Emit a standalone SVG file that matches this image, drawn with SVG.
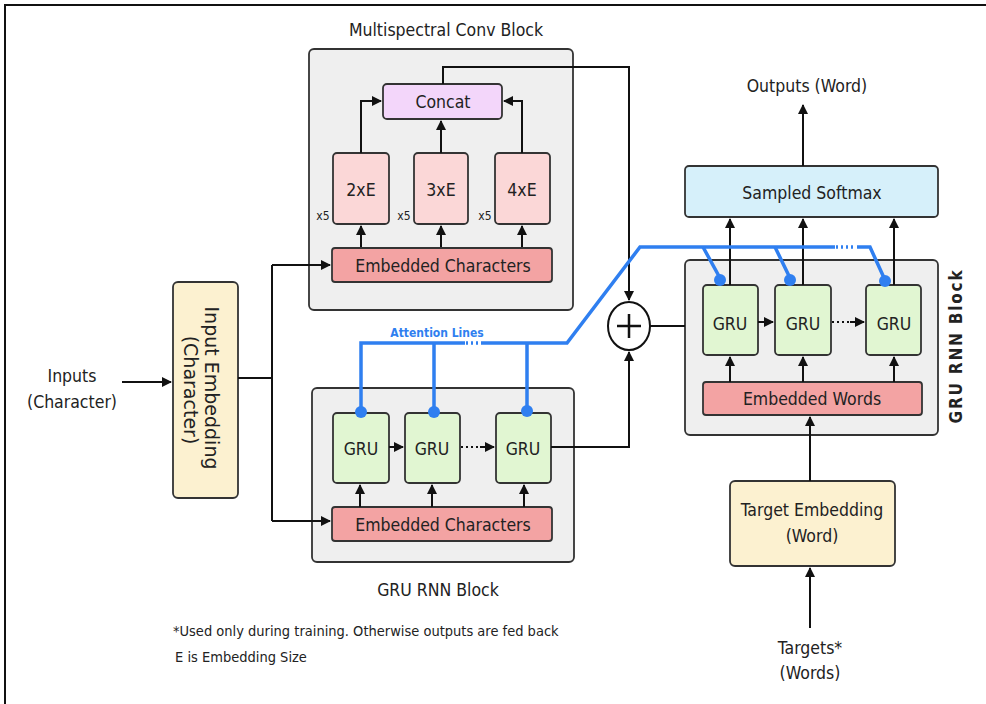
<svg xmlns="http://www.w3.org/2000/svg" width="986" height="704" viewBox="0 0 986 704">
<defs>
<marker id="ah" viewBox="0 0 10 10" refX="9" refY="5" markerWidth="5" markerHeight="5" orient="auto-start-reverse"><path d="M0,0 L10,5 L0,10 z" fill="#111"/></marker>
<style>
text{font-family:"DejaVu Sans Condensed","DejaVu Sans",sans-serif;fill:#222}
.blk{fill:#efefef;stroke:#333;stroke-width:1.8}
.pink{fill:#fbd7d7;stroke:#333;stroke-width:1.8}
.emb{fill:#f3a3a3;stroke:#333;stroke-width:1.8}
.gru{fill:#e1f6d2;stroke:#333;stroke-width:1.8}
.cc{fill:#f3d6fa;stroke:#333;stroke-width:1.8}
.sm{fill:#d6f0fa;stroke:#333;stroke-width:1.8}
.yel{fill:#fcf1d0;stroke:#333;stroke-width:1.8}
.ln{fill:none;stroke:#111;stroke-width:2}
.ar{fill:none;stroke:#111;stroke-width:2;marker-end:url(#ah)}
.dot{fill:none;stroke:#111;stroke-width:2;stroke-dasharray:2 3}
.bl{fill:none;stroke:#2f7ff0;stroke-width:3.5}
.bld{fill:none;stroke:#2f7ff0;stroke-width:3.5;stroke-dasharray:2 3}
.bdot{fill:#2f7ff0}
.t{font-size:17.5px;text-anchor:middle}
.r{font-family:"DejaVu Sans",sans-serif;font-size:19px;text-anchor:middle}
.s{font-size:12px;text-anchor:middle}
</style>
</defs>
<rect x="0" y="0" width="986" height="704" fill="#fff"/>
<path d="M5,704 V5 H986" fill="none" stroke="#111" stroke-width="2"/>

<g id="conv-block">
<rect class="blk" x="309" y="49" width="264" height="261" rx="5"/>
<text class="t" x="446" y="36">Multispectral Conv Block</text>
</g>
<g id="concat"><rect class="cc" x="383" y="84" width="119" height="35" rx="4"/><text class="t" x="443" y="108">Concat</text></g>
<g id="conv2"><rect class="pink" x="333" y="153" width="56" height="71" rx="4"/><text class="t" x="361" y="196">2xE</text><text class="s" x="323" y="220">x5</text></g>
<g id="conv3"><rect class="pink" x="414" y="153" width="54" height="71" rx="4"/><text class="t" x="441" y="196">3xE</text><text class="s" x="404" y="220">x5</text></g>
<g id="conv4"><rect class="pink" x="495" y="153" width="55" height="71" rx="4"/><text class="t" x="522" y="196">4xE</text><text class="s" x="485" y="220">x5</text></g>
<g id="emb-chars-top"><rect class="emb" x="332" y="248" width="220" height="34" rx="3"/><text class="t" x="443" y="272">Embedded Characters</text></g>

<g id="gru-block-left">
<rect class="blk" x="312" y="388" width="262" height="174" rx="5"/>
<text class="t" x="438" y="596">GRU RNN Block</text>
</g>
<g id="gru-l1"><rect class="gru" x="333" y="413" width="56" height="70" rx="4"/><text class="t" x="361" y="455">GRU</text></g>
<g id="gru-l2"><rect class="gru" x="405" y="413" width="55" height="70" rx="4"/><text class="t" x="432" y="455">GRU</text></g>
<g id="gru-l3"><rect class="gru" x="496" y="413" width="55" height="70" rx="4"/><text class="t" x="523" y="455">GRU</text></g>
<g id="emb-chars-bottom"><rect class="emb" x="332" y="507" width="220" height="34" rx="3"/><text class="t" x="443" y="531">Embedded Characters</text></g>

<g id="input-embedding"><rect class="yel" x="173" y="282" width="65" height="216" rx="5"/>
<text class="r" transform="translate(205,388) rotate(90)">Input Embedding</text>
<text class="r" transform="translate(184,390) rotate(90)">(Character)</text></g>
<g id="inputs"><text class="t" x="72" y="382">Inputs</text><text class="t" x="72" y="408">(Character)</text></g>

<g id="plus"><ellipse cx="629" cy="326" rx="21" ry="24" fill="#fff" stroke="#111" stroke-width="2"/><path d="M617,326 H641 M629,314 V338" stroke="#111" stroke-width="2.5"/></g>

<g id="gru-block-right">
<rect class="blk" x="685" y="260" width="253" height="175" rx="5"/>
<text class="t" font-weight="bold" transform="translate(962,346) rotate(-90)" style="font-size:17px;letter-spacing:1.8px">GRU RNN Block</text>
</g>
<g id="gru-r1"><rect class="gru" x="703" y="285" width="55" height="70" rx="4"/><text class="t" x="730" y="330">GRU</text></g>
<g id="gru-r2"><rect class="gru" x="775" y="285" width="56" height="70" rx="4"/><text class="t" x="803" y="330">GRU</text></g>
<g id="gru-r3"><rect class="gru" x="866" y="285" width="55" height="70" rx="4"/><text class="t" x="894" y="330">GRU</text></g>
<g id="emb-words"><rect class="emb" x="703" y="382" width="219" height="33" rx="3"/><text class="t" x="812" y="405">Embedded Words</text></g>
<g id="softmax"><rect class="sm" x="685" y="166" width="253" height="51" rx="4"/><text class="t" x="812" y="199">Sampled Softmax</text></g>
<g id="outputs"><text class="t" x="807" y="92">Outputs (Word)</text></g>
<g id="target-embedding"><rect class="yel" x="730" y="481" width="165" height="85" rx="5"/><text class="t" x="812" y="516">Target Embedding</text><text class="t" x="812" y="542">(Word)</text></g>
<g id="targets"><text class="t" x="810" y="654">Targets*</text><text class="t" x="810" y="679">(Words)</text></g>
<g id="notes"><text x="173" y="636" font-size="14.5">*Used only during training. Otherwise outputs are fed back</text><text x="175" y="662" font-size="14.5">E is Embedding Size</text></g>

<g id="connectors">
<path class="ar" d="M122,382 H171"/>
<path class="ln" d="M238,378 H272"/>
<path class="ar" d="M272,265 V521 M272,265 H330"/>
<path class="ar" d="M272,521 H330"/>
<path class="ar" d="M361,247 V226"/>
<path class="ar" d="M441,247 V226"/>
<path class="ar" d="M522,247 V226"/>
<path class="ar" d="M361,153 V101 H381"/>
<path class="ar" d="M441,153 V121"/>
<path class="ar" d="M522,153 V101 H504"/>
<path class="ar" d="M443,84 V67 H629 V300"/>
<path class="ar" d="M360,507 V485"/>
<path class="ar" d="M432,507 V485"/>
<path class="ar" d="M524,507 V485"/>
<path class="ar" d="M389,447 H403"/>
<path class="dot" d="M461,447 H480"/>
<path class="ar" d="M480,447 H494"/>
<path class="ar" d="M551,447 H629 V352"/>
<path class="ln" d="M650,326 H685"/>
<path class="ar" d="M730,382 V357"/>
<path class="ar" d="M803,382 V357"/>
<path class="ar" d="M894,382 V357"/>
<path class="ar" d="M758,322 H773"/>
<path class="dot" d="M832,322 H850"/>
<path class="ar" d="M850,322 H864"/>
<path class="ar" d="M730,285 V219"/>
<path class="ar" d="M803,285 V219"/>
<path class="ar" d="M894,285 V219"/>
<path class="ar" d="M803,166 V105"/>
<path class="ar" d="M810,481 V417"/>
<path class="ar" d="M810,628 V568"/>
<g id="attention">
<path class="bl" d="M361,412 V343 H465 M434,412 V343 M527,411 V343 M482,343 H567 L640,247 H835"/>
<path class="bld" d="M466,343 H482 M836,247 H856"/>
<path class="bl" d="M857,247 H870 L885,280 M703,247 L720,278 M775,247 L790,278"/>
<circle class="bdot" cx="361" cy="412" r="6"/>
<circle class="bdot" cx="434" cy="412" r="6"/>
<circle class="bdot" cx="527" cy="411" r="6"/>
<circle class="bdot" cx="720" cy="280" r="6"/>
<circle class="bdot" cx="790" cy="280" r="6"/>
<circle class="bdot" cx="885" cy="281" r="6"/>
<text x="437" y="337" font-size="12" font-weight="bold" text-anchor="middle" style="fill:#2f7ff0">Attention Lines</text>
</g>
</g>
</svg>
